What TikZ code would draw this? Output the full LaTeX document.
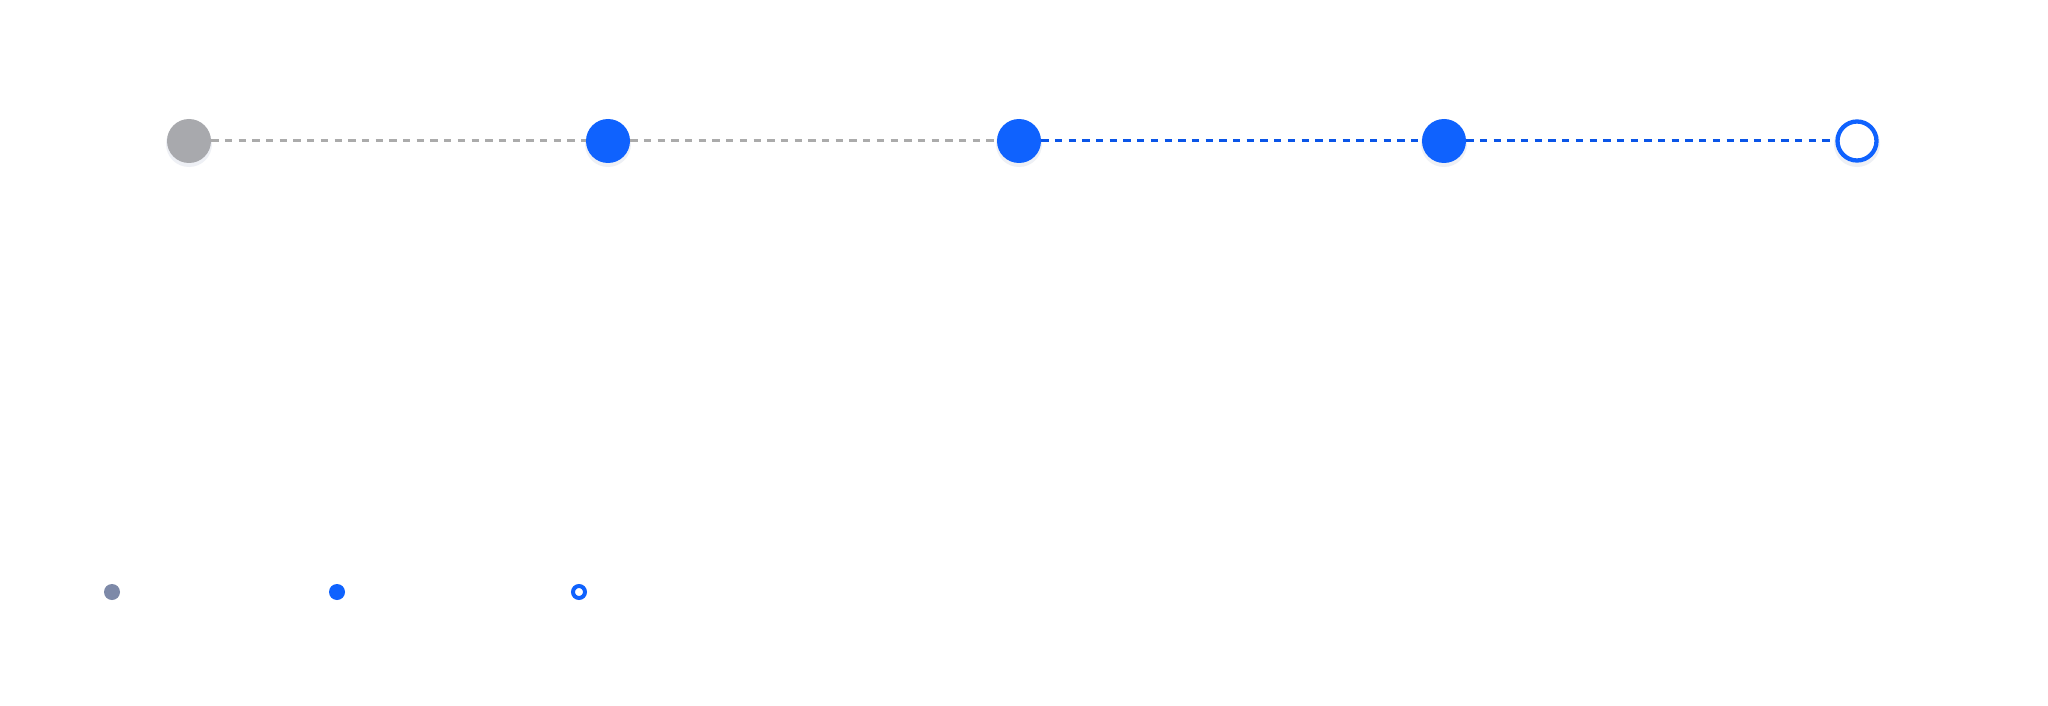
\documentclass[tikz,border=0pt]{standalone}
\usepackage{tikz}
\usetikzlibrary{positioning}
\definecolor{stepblue}{HTML}{0F62FE}
\definecolor{dashblue}{HTML}{0A55E8}
\definecolor{stepgray}{HTML}{A8A9AD}
\definecolor{dashgray}{HTML}{ABABAB}
\definecolor{keyslate}{HTML}{7D89A8}
\definecolor{halo}{HTML}{EEF0F5}
\tikzstyle{donestep}  = [circle, minimum size=44pt, inner sep=0pt, fill=stepgray]
\tikzstyle{activestep}= [circle, minimum size=44pt, inner sep=0pt, fill=stepblue]
\tikzstyle{openstep}  = [circle, minimum size=39pt, inner sep=0pt, draw=stepblue, line width=4.3pt, fill=white]
\tikzstyle{shadowdot} = [circle, minimum size=46pt, inner sep=0pt, fill=halo]
\tikzstyle{graylink}  = [dashgray, line width=3pt, dash pattern=on 7.3pt off 6.4pt]
\tikzstyle{bluelink}  = [dashblue, line width=3pt, dash pattern=on 7.3pt off 6.4pt]
\tikzstyle{keydot}    = [circle, minimum size=16pt, inner sep=0pt]

\begin{document}
\begin{tikzpicture}[x=1pt, y=-1pt]
  \useasboundingbox[fill=white] (0,0) rectangle (2048,706);

  % soft shadows under the steps
  \foreach \xpos in {189, 608, 1019, 1444, 1857}
    \node[shadowdot] at (\xpos, 144) {};

  % Steps
  \node (s1) [donestep]   at (189,  141) {};
  \node (s2) [activestep] at (608,  141) {};
  \node (s3) [activestep] at (1019, 141) {};
  \node (s4) [activestep] at (1444, 141) {};
  \node (s5) [openstep]   at (1857, 141) {};

  % Links
  \draw[graylink] (s1) -- (s2);
  \draw[graylink] (s2) -- (s3);
  \draw[bluelink] (s3) -- (s4);
  \draw[bluelink] (s4) -- (s5);

  % Legend
  \node (k1) [keydot, fill=keyslate] at (112, 592) {};
  \node (k2) [keydot, fill=stepblue] at (337, 592) {};
  \node (k3) [keydot, minimum size=12pt, draw=stepblue, line width=4pt, fill=white] at (579, 592) {};

\end{tikzpicture}
\end{document}
